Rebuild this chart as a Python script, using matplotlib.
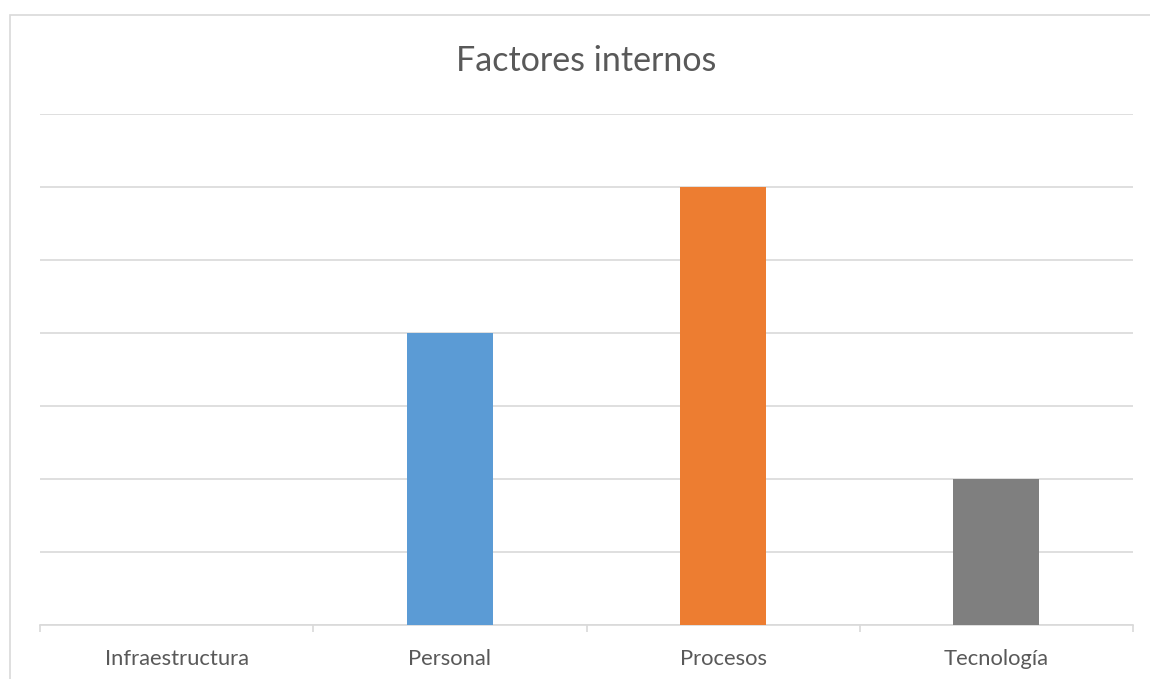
import matplotlib
matplotlib.use("Agg")
import matplotlib.pyplot as plt
from matplotlib.patches import Rectangle

categories = ["Infraestructura", "Personal", "Procesos", "Tecnología"]
values = [0, 4, 6, 2]
colors = ["#5B9BD5", "#5B9BD5", "#ED7D31", "#7F7F7F"]
title = "Factores internos"

W, H = 1150, 679
fig = plt.figure(figsize=(W / 100, H / 100), dpi=100)
fig.patch.set_facecolor("white")

# chart border
fig.patches.append(Rectangle((10 / W, -0.05), 1.2, 1 - 15 / H + 0.05,
                             transform=fig.transFigure, fill=False,
                             edgecolor="#D9D9D9", linewidth=1.2))

ax = fig.add_axes([40 / W, 1 - 625 / H, (1133 - 40) / W, (625 - 114) / H])
x = list(range(len(categories)))
ax.bar(x, values, width=0.315, color=colors, zorder=3)
ax.set_xlim(-0.5, len(categories) - 0.5)
ax.set_ylim(0, 7)
ax.set_yticks(range(0, 8))
ax.yaxis.grid(True, color="#D9D9D9", linewidth=1.2, zorder=0)
ax.tick_params(axis="y", length=0, labelleft=False)
ax.set_xticks(x)
ax.set_xticklabels(categories, fontsize=15.8, color="#595959", family="Lato")
ax.tick_params(axis="x", which="major", length=0, pad=17)
ax.set_xticks([i - 0.5 for i in range(len(categories) + 1)], minor=True)
ax.tick_params(axis="x", which="minor", length=5, color="#D9D9D9", width=1.2)
for s in ["top", "right", "left"]:
    ax.spines[s].set_visible(False)
ax.spines["bottom"].set_color("#D9D9D9")
ax.spines["bottom"].set_linewidth(1.2)

fig.text(586 / W, 1 - 61 / H, title, ha="center", va="center",
         fontsize=24.5, color="#595959", family="Lato")

fig.savefig("out.png", dpi=100)
